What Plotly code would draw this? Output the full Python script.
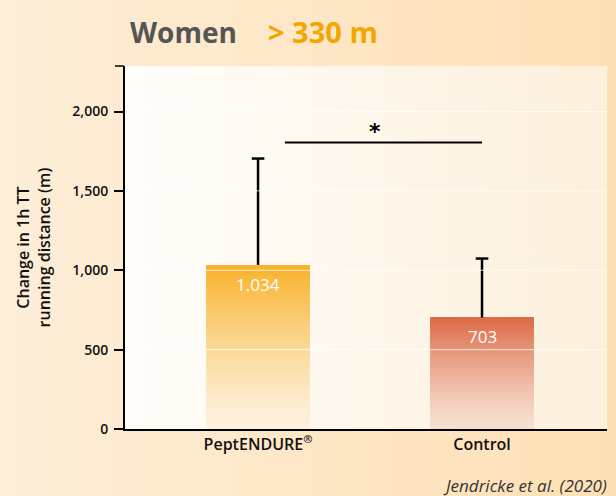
import base64
import plotly.graph_objects as go

# ---------------- data ----------------
categories = ["PeptENDURE<sup>®</sup>", "Control"]
means = [1034, 703]
sd_up = [670, 371]
value_labels = ["1.034", "703"]
y_tickvals = [0, 500, 1000, 1500, 2000]
y_ticktext = ["0", "500", "1,000", "1,500", "2,000"]
sig_from = 0.12   # bracket start (category units)
sig_to = 1.0      # bracket end
sig_y = 1805
sig_label = "*"
title_left = "Women"
title_right = "> 330 m"
y_title = "Change in 1h TT<br>running distance (m)"
citation = "Jendricke et al. (2020)"

# ---------------- style ----------------
W, H = 616, 496
ML, MR, MT, MB = 125, 9, 66, 67
PW, PH = W - ML - MR, H - MT - MB
Y_MAX = 2287
X_RANGE = [-0.594, 1.558]
BAR_W = 0.464
FONT = "Open Sans"
bar_top = [(249, 178, 42), (221, 106, 69)]
bar_bot = [(253, 241, 222), (248, 224, 210)]
NSEG = 90


def px_x(px):
    return (px - ML) / PW


def px_y(py):
    return 1 - (py - MT) / PH


def svg_uri(w, h, c0, c1):
    s = (f'<svg xmlns="http://www.w3.org/2000/svg" width="{w}" height="{h}" '
         f'viewBox="0 0 {w} {h}" preserveAspectRatio="none"><defs>'
         f'<linearGradient id="g" x1="0" y1="0" x2="1" y2="0">'
         f'<stop offset="0" stop-color="{c0}"/><stop offset="1" stop-color="{c1}"/>'
         f'</linearGradient></defs><rect width="{w}" height="{h}" fill="url(#g)"/></svg>')
    return "data:image/svg+xml;base64," + base64.b64encode(s.encode()).decode()


def mix(a, b, t):
    return "rgb(%d,%d,%d)" % tuple(round(a[i] + (b[i] - a[i]) * t) for i in range(3))


fig = go.Figure()

# gradient bars drawn as stacked slices of each value
for i, (cat, val) in enumerate(zip(categories, means)):
    step = val / NSEG
    bases = [k * step for k in range(NSEG)]
    heights = [step] * NSEG
    cols = [mix(bar_bot[i], bar_top[i], ((k + 0.5) / NSEG) ** 1.3) for k in range(NSEG)]
    fig.add_trace(go.Bar(
        x=[cat] * NSEG, y=heights, base=bases, width=BAR_W,
        marker=dict(color=cols, line=dict(width=0)),
        hoverinfo="skip", showlegend=False))

# error bars (upper only): stem + cap
stem_x, stem_y = [], []
for cat, m, s in zip(categories, means, sd_up):
    stem_x += [cat, cat, None]
    stem_y += [m, m + s, None]
fig.add_trace(go.Scatter(x=stem_x, y=stem_y, mode="lines",
                         line=dict(color="black", width=2.5),
                         hoverinfo="skip", showlegend=False))
fig.add_trace(go.Scatter(x=categories, y=[m + s for m, s in zip(means, sd_up)],
                         mode="markers",
                         marker=dict(symbol="line-ew", size=9,
                                     line=dict(color="black", width=2.5)),
                         hoverinfo="skip", showlegend=False))

shapes = []
for v in y_tickvals[1:]:
    shapes.append(dict(type="line", xref="paper", yref="y", x0=0, x1=1, y0=v, y1=v,
                       line=dict(color="rgba(255,255,255,0.75)", width=1), layer="above"))
shapes.append(dict(type="line", xref="x", yref="y", x0=sig_from, x1=sig_to,
                   y0=sig_y, y1=sig_y, line=dict(color="black", width=2)))
# small tick closing the top of the y axis
shapes.append(dict(type="line", xref="paper", yref="paper", x0=-10 / PW, x1=-1 / PW,
                   y0=1, y1=1, line=dict(color="black", width=1.5)))

annotations = []
for cat, val, lab in zip(categories, means, value_labels):
    annotations.append(dict(x=cat, y=val, xref="x", yref="y", text=lab, showarrow=False,
                            yanchor="top", yshift=-6,
                            font=dict(family=FONT, size=17, color="white")))
annotations.append(dict(x=(sig_from + sig_to) / 2 - 0.04, y=sig_y, xref="x", yref="y",
                        text=sig_label, showarrow=False, yanchor="bottom", yshift=-3,
                        font=dict(family="DejaVu Sans", size=22, color="black", weight="bold")))
annotations.append(dict(x=px_x(128), y=px_y(32), xref="paper", yref="paper", text=title_left,
                        showarrow=False, xanchor="left", yanchor="middle",
                        font=dict(family=FONT, size=28, color="#555555", weight="bold")))
annotations.append(dict(x=px_x(266), y=px_y(32), xref="paper", yref="paper", text=title_right,
                        showarrow=False, xanchor="left", yanchor="middle",
                        font=dict(family=FONT, size=29, color="#f5a500", weight="bold")))
annotations.append(dict(x=px_x(609), y=px_y(485), xref="paper", yref="paper",
                        text="<i>" + citation + "</i>", showarrow=False,
                        xanchor="right", yanchor="middle",
                        font=dict(family=FONT, size=17, color="#333333")))

images = [
    dict(source=svg_uri(W, H, "#fdeed8", "#fee0b5"), xref="paper", yref="paper",
         x=px_x(0), y=px_y(0), sizex=W / PW, sizey=H / PH, xanchor="left", yanchor="top",
         sizing="stretch", layer="below"),
    dict(source=svg_uri(PW, PH, "#fffdfa", "#fdf0dc"), xref="paper", yref="paper",
         x=0, y=1, sizex=1, sizey=1, xanchor="left", yanchor="top",
         sizing="stretch", layer="below"),
]

fig.update_layout(
    width=W, height=H,
    margin=dict(l=ML, r=MR, t=MT, b=MB),
    paper_bgcolor="#fde8c8", plot_bgcolor="rgba(0,0,0,0)",
    barmode="overlay", showlegend=False,
    shapes=shapes, annotations=annotations, images=images,
    xaxis=dict(range=X_RANGE, showgrid=False, zeroline=False, showline=True,
               linecolor="black", linewidth=2, ticks="",
               tickfont=dict(family=FONT, size=16, color="#111111", weight=600)),
    yaxis=dict(range=[0, Y_MAX], showgrid=False, zeroline=False, showline=True,
               linecolor="black", linewidth=2, ticks="outside", ticklen=9, tickwidth=1.5,
               tickcolor="black", tickvals=y_tickvals, ticktext=y_ticktext,
               ticklabelstandoff=3,
               tickfont=dict(family=FONT, size=14, color="#111111", weight=600),
               title=dict(text=y_title, standoff=18,
                          font=dict(family=FONT, size=16, color="#111111", weight=600))),
)

fig.write_html("out.html", config={"displayModeBar": False},
               post_script="document.body.style.margin='0';document.body.style.padding='0';"
                           "document.body.style.overflow='hidden';")
